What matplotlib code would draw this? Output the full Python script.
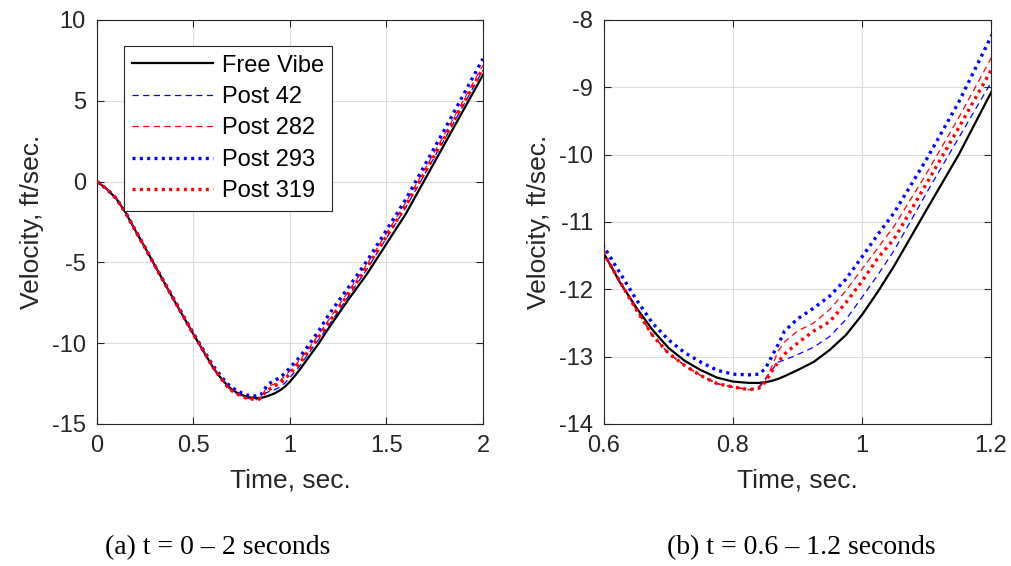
import matplotlib
matplotlib.use("Agg")
from matplotlib import pyplot as plt
from matplotlib.ticker import FormatStrFormatter

# time samples (sec.)
time = [0, 0.05, 0.1, 0.15, 0.2, 0.25, 0.3, 0.4, 0.5,
        0.6, 0.625, 0.65, 0.675, 0.7, 0.725, 0.75, 0.775, 0.8, 0.825, 0.84,
        0.85, 0.86, 0.87, 0.88, 0.9, 0.925, 0.95, 0.975, 1.0, 1.025, 1.05,
        1.1, 1.15, 1.2, 1.3, 1.4, 1.5, 1.6, 1.7, 1.8, 1.9, 2.0]

# velocity (ft/sec.)
free_vibe = [0, -0.45, -1.05, -1.95, -3.05, -4.1, -5.2, -7.35, -9.45,
             -11.47, -11.9, -12.27, -12.6, -12.87, -13.06, -13.2, -13.31, -13.37, -13.39, -13.39,
             -13.38, -13.36, -13.33, -13.29, -13.2, -13.08, -12.9, -12.68, -12.38, -12.03, -11.65,
             -10.82, -10.0, -9.08, -7.35, -5.7, -3.85, -2.0, 0.15, 2.3, 4.45, 6.6]
post_42 = [0, -0.45, -1.05, -1.95, -3.05, -4.1, -5.2, -7.35, -9.45,
           -11.47, -11.89, -12.3, -12.68, -12.95, -13.13, -13.28, -13.4, -13.45, -13.49, -13.45,
           -13.33, -13.2, -13.08, -13.05, -12.97, -12.86, -12.7, -12.45, -12.12, -11.78, -11.42,
           -10.57, -9.75, -8.93, -7.15, -5.4, -3.5, -1.6, 0.5, 2.6, 4.75, 6.9]
post_282 = [0, -0.45, -1.05, -1.95, -3.05, -4.1, -5.2, -7.35, -9.45,
            -11.47, -11.89, -12.3, -12.68, -12.95, -13.13, -13.28, -13.4, -13.45, -13.49, -13.47,
            -13.35, -13.15, -12.92, -12.78, -12.62, -12.5, -12.3, -12.02, -11.7, -11.38, -11.06,
            -10.28, -9.45, -8.57, -6.85, -5.1, -3.2, -1.3, 0.8, 2.9, 5.05, 7.2]
post_293 = [0, -0.45, -1.05, -1.95, -3.05, -4.1, -5.2, -7.3, -9.4,
            -11.37, -11.76, -12.15, -12.5, -12.75, -12.94, -13.08, -13.2, -13.26, -13.27, -13.26,
            -13.18, -13.0, -12.82, -12.62, -12.44, -12.28, -12.1, -11.85, -11.52, -11.18, -10.86,
            -10.07, -9.22, -8.25, -6.6, -4.9, -3.0, -1.1, 1.05, 3.2, 5.4, 7.6]
post_319 = [0, -0.45, -1.05, -1.95, -3.05, -4.1, -5.2, -7.35, -9.45,
            -11.47, -11.89, -12.3, -12.68, -12.95, -13.13, -13.28, -13.4, -13.45, -13.49, -13.47,
            -13.38, -13.22, -13.08, -12.96, -12.8, -12.62, -12.48, -12.2, -11.88, -11.53, -11.25,
            -10.43, -9.6, -8.75, -7.0, -5.3, -3.4, -1.5, 0.6, 2.7, 4.85, 7.0]

left_xticks = [0, 0.5, 1, 1.5, 2]
left_yticks = [-15, -10, -5, 0, 5, 10]
right_xticks = [0.6, 0.8, 1, 1.2]
right_yticks = [-14, -13, -12, -11, -10, -9, -8]

captions = ["(a) t = 0 \u2013 2 seconds", "(b) t = 0.6 \u2013 1.2 seconds"]

plt.rcParams['font.family'] = ['Liberation Sans', 'DejaVu Sans']
plt.rcParams['axes.unicode_minus'] = False

dark = '#262626'

fig = plt.figure(figsize=(10.11, 5.66), dpi=100)
ax1 = fig.add_axes([0.0959, 0.2509, 0.3818, 0.7138])
ax2 = fig.add_axes([0.5974, 0.2509, 0.3828, 0.7138])


def draw(ax):
    ax.plot(time, free_vibe, color='black', lw=1.6, label='Free Vibe', zorder=3)
    ax.plot(time, post_42, color='blue', lw=0.9, ls=(0, (5, 3.5)), label='Post 42', zorder=4)
    ax.plot(time, post_282, color='red', lw=0.9, ls=(0, (5, 3.5)), label='Post 282', zorder=4)
    ax.plot(time, post_293, color='blue', lw=2.4, ls=(0, (0.9, 1.3)), label='Post 293', zorder=5)
    ax.plot(time, post_319, color='red', lw=2.4, ls=(0, (0.9, 1.3)), label='Post 319', zorder=5)
    ax.grid(True, color='#dcdcdc', lw=0.8)
    ax.set_axisbelow(True)
    ax.tick_params(direction='in', labelsize=17, colors=dark, length=5, top=True, right=True,
                   labelcolor=dark, pad=8)
    for sp in ax.spines.values():
        sp.set_color(dark)
        sp.set_linewidth(0.8)
    ax.set_xlabel('Time, sec.', fontsize=19, color=dark, labelpad=8)
    ax.set_ylabel('Velocity, ft/sec.', fontsize=19, color=dark, labelpad=6)
    ax.xaxis.set_major_formatter(FormatStrFormatter('%g'))
    ax.yaxis.set_major_formatter(FormatStrFormatter('%g'))


draw(ax1)
ax1.set_xlim(0, 2)
ax1.set_ylim(-15, 10)
ax1.set_xticks(left_xticks)
ax1.set_yticks(left_yticks)
leg = ax1.legend(loc='upper left', bbox_to_anchor=(0.07, 0.935), fontsize=17, handlelength=3.4,
                 frameon=True, fancybox=False, edgecolor=dark, framealpha=1,
                 borderpad=0.35, labelspacing=0.4, handletextpad=0.4, borderaxespad=0)
leg.get_frame().set_linewidth(0.8)

draw(ax2)
ax2.set_xlim(0.6, 1.2)
ax2.set_ylim(-14, -8)
ax2.set_xticks(right_xticks)
ax2.set_yticks(right_yticks)

fig.text(218 / 1011, 1 - 548 / 566, captions[0], ha='center', va='center',
         fontsize=20, family=['Liberation Serif', 'DejaVu Serif'])
fig.text(801 / 1011, 1 - 548 / 566, captions[1], ha='center', va='center',
         fontsize=20, family=['Liberation Serif', 'DejaVu Serif'])

fig.savefig('out.png', dpi=100)
